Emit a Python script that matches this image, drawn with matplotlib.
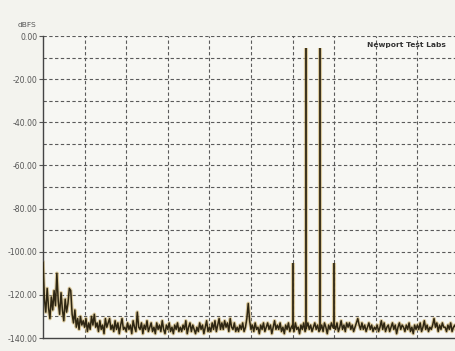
import numpy as np
import matplotlib
matplotlib.use('Agg')
from matplotlib import pyplot as plt

# noise floor, dBFS, one value every 0.1 kHz from 0 to 29.9 kHz
floor_db = [
    -105, -122, -128, -117, -126, -131, -121, -127, -118, -125,
    -110, -123, -129, -119, -127, -132, -122, -128, -124, -117,
    -118, -129, -133, -127, -135, -131, -136, -130, -134, -132,
    -135, -131, -137, -133, -136, -130, -134, -129, -135, -133,
    -137, -132, -136, -134, -138, -131, -135, -133, -131, -136,
    -134, -137, -132, -136, -133, -138, -134, -131, -136, -135,
    -137, -133, -136, -134, -138, -132, -135, -137, -128, -135,
    -136, -133, -138, -134, -136, -132, -137, -135, -133, -137,
    -135, -138, -133, -136, -134, -137, -132, -136, -138, -134,
    -136, -133, -137, -135, -138, -134, -136, -133, -137, -135,
    -137, -134, -136, -132, -138, -135, -133, -137, -134, -136,
    -138, -135, -137, -133, -136, -134, -138, -135, -132, -137,
    -135, -137, -133, -136, -132, -137, -134, -131, -136, -133,
    -136, -132, -135, -133, -137, -131, -135, -136, -133, -137,
    -135, -137, -134, -136, -133, -137, -135, -131, -124, -132,
    -136, -134, -137, -133, -136, -135, -138, -134, -136, -133,
    -137, -135, -133, -136, -134, -138, -135, -132, -136, -134,
    -136, -133, -137, -135, -138, -134, -136, -133, -137, -135,
    -134, -137, -133, -136, -135, -138, -134, -136, -133, -137,
    -135, -133, -136, -134, -137, -135, -133, -136, -134, -137,
    -136, -134, -137, -133, -135, -138, -134, -136, -133, -135,
    -134, -136, -133, -137, -135, -132, -136, -134, -137, -133,
    -135, -133, -136, -134, -137, -135, -133, -131, -134, -136,
    -133, -136, -134, -137, -135, -133, -136, -134, -137, -135,
    -136, -134, -137, -135, -132, -136, -133, -137, -135, -134,
    -137, -135, -133, -136, -134, -138, -135, -133, -136, -134,
    -135, -137, -134, -136, -133, -137, -135, -138, -134, -136,
    -134, -136, -133, -137, -135, -132, -136, -134, -137, -135,
    -136, -134, -131, -135, -133, -137, -134, -136, -133, -135,
    -135, -137, -134, -136, -133, -137, -135, -134, -136, -135,
]
floor_khz = np.arange(len(floor_db)) * 0.1

# test tones and intermod products
tone_khz = [18.0, 19.0, 20.0, 21.0]
tone_db = [-105, -5.5, -5.5, -105]

y_ticks = [0, -20, -40, -60, -80, -100, -120, -140]
y_labels = ['0.00', '-20.00', '-40.00', '-60.00', '-80.00',
            '-100.00', '-120.00', '-140.00']

W, H = 455, 351
fig = plt.figure(figsize=(W / 100, H / 100), dpi=100)
fig.patch.set_facecolor('#f3f3ee')
# axis runs a bit past the right edge of the scan
ax = fig.add_axes([43 / W, 13 / H, (459 - 43) / W, (338 - 36) / H])
ax.set_facecolor('#f7f7f3')
ax.set_xlim(0, 30)
ax.set_ylim(-140, 0)

grid_kw = dict(color='#5a5a5a', lw=0.8, dashes=(3, 2.2), zorder=1)
for y in np.arange(-130, 1, 10):
    ax.axhline(y, **grid_kw)
for x in np.arange(3, 30, 3):
    ax.axvline(x, **grid_kw)

trace = '#2e2612'
glow = '#c9ad6a'
ax.plot(floor_khz, floor_db, color=glow, lw=2.6, alpha=0.6, zorder=2)
ax.plot(floor_khz, floor_db, color=trace, lw=1.1, zorder=3)
ax.vlines(tone_khz, -136, tone_db, color=glow, lw=3.0, alpha=0.6, zorder=2)
ax.vlines(tone_khz, -136, tone_db, color=trace, lw=1.3, zorder=3)

ax.set_yticks(y_ticks)
ax.set_yticklabels(y_labels, fontsize=5.6, color='#555555')
ax.set_xticks([])
ax.tick_params(axis='y', length=3, width=0.8, color='#555555', pad=1)

for s in ['top', 'right']:
    ax.spines[s].set_visible(False)
for s in ['left', 'bottom']:
    ax.spines[s].set_color('#444444')
    ax.spines[s].set_linewidth(1.0)

fig.text(27 / W, 1 - 25 / H, 'dBFS', fontsize=5.4, color='#555555',
         ha='center', va='center')
ax.text(23.4, -4.2, 'Newport Test Labs', fontsize=5.4, color='#333333',
        ha='left', va='center', fontweight='bold', zorder=4)

fig.savefig('out.png', dpi=100, facecolor=fig.get_facecolor())
